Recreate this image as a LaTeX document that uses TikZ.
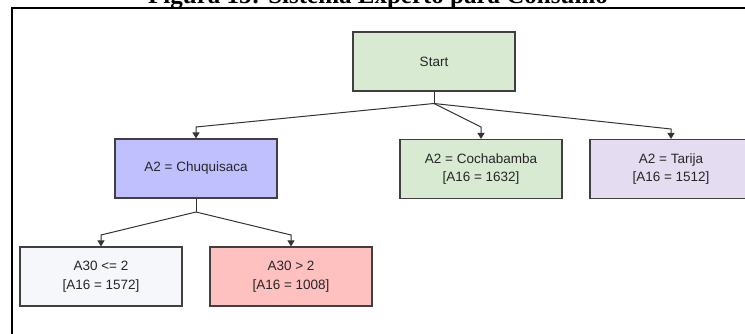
\documentclass[tikz,border=0pt]{standalone}
\usepackage{fontspec}
\setmainfont{Liberation Sans}
\newfontfamily\titlefont{Liberation Serif}
\usetikzlibrary{arrows.meta}
\definecolor{bordergray}{HTML}{404040}
\definecolor{linegray}{HTML}{333333}
\definecolor{fgreen}{HTML}{D9EAD3}
\definecolor{fblue}{HTML}{C0C0FF}
\definecolor{flav}{HTML}{E4DCF0}
\definecolor{fwhite}{HTML}{F5F7FA}
\definecolor{fpink}{HTML}{FFC0C0}
\tikzset{
  treebox/.style={draw=bordergray, line width=1.2pt, minimum width=162pt, minimum height=59pt,
    inner sep=0pt, align=center, font=\fontsize{13.5}{18.5}\selectfont, text=black!85},
  conn/.style={draw=linegray, line width=1pt},
  arr/.style={conn, -{Triangle[length=6pt,width=7pt]}}
}
\begin{document}
\begin{tikzpicture}[x=1pt,y=-1pt]
\useasboundingbox (0,0) rectangle (745,334);
\clip (0,0) rectangle (745,334);
\node[anchor=base, font=\titlefont\bfseries\fontsize{25}{28}\selectfont] (title) at (378,3.5) {Figura 15: Sistema Experto para Consumo};
\draw[line width=2pt] (12,400) -- (12,8) -- (800,8);
\node[treebox, fill=fgreen] (start) at (434,61.5) {Start};
\node[treebox, fill=fblue] (chu) at (196,168.5) {A2 = Chuquisaca};
\node[treebox, fill=fgreen] (coc) at (481,169) {A2 = Cochabamba\\{}[A16 = 1632]};
\node[treebox, fill=flav] (tar) at (671,169) {A2 = Tarija\\{}[A16 = 1512]};
\node[treebox, fill=fwhite] (le) at (101,276.5) {A30 <= 2\\{}[A16 = 1572]};
\node[treebox, fill=fpink] (gt) at (291,276.5) {A30 > 2\\{}[A16 = 1008]};
\coordinate (j1) at (434,103.5);
\coordinate (j2) at (196,212);
\draw[conn] (start.south) -- (j1);
\draw[arr] (j1) -- (chu.north |- 0,127) -- (chu.north);
\draw[arr] (j1) -- (coc.north |- 0,127) -- (coc.north);
\draw[arr] (j1) -- (tar.north |- 0,129) -- (tar.north);
\draw[conn] (chu.south) -- (j2);
\draw[arr] (j2) -- (le.north |- 0,235) -- (le.north);
\draw[arr] (j2) -- (gt.north |- 0,235) -- (gt.north);
\end{tikzpicture}
\end{document}
